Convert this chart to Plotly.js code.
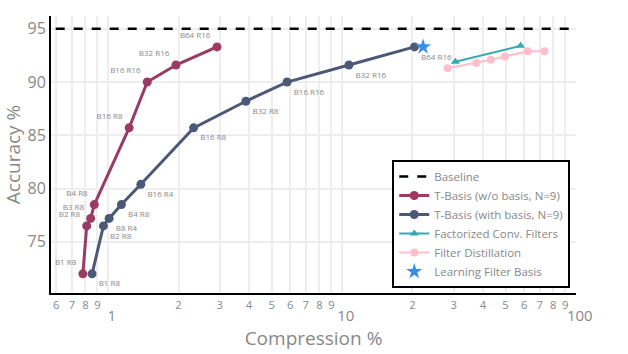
<!DOCTYPE html>
<html>
<head>
<meta charset="utf-8">
<script src="https://cdn.plot.ly/plotly-3.0.1.min.js"></script>
<style>
  html, body { margin: 0; padding: 0; background: #fff; }
  #chart { width: 628px; height: 354px; }
</style>
</head>
<body>
<div id="chart"></div>
<script>
// T-Basis without basis sharing
const noBasisX = [0.78, 0.81, 0.842, 0.873, 1.23, 1.47, 1.95, 2.92];
const noBasisY = [72.0, 76.5, 77.2, 78.5, 85.7, 90.0, 91.6, 93.3];
const noBasisLabels = ['B1 R8', 'B2 R8', 'B3 R8', 'B4 R8', 'B16 R8', 'B16 R16', 'B32 R16', 'B64 R16'];

// T-Basis with basis
const withBasisX = [0.854, 0.955, 1.01, 1.14, 1.38, 2.32, 3.88, 5.82, 10.7, 20.4];
const withBasisY = [72.0, 76.5, 77.2, 78.5, 80.4, 85.7, 88.2, 90.0, 91.6, 93.3];
const withBasisLabels = ['B1 R8', 'B2 R8', 'B8 R4', 'B4 R8', 'B16 R4', 'B16 R8', 'B32 R8', 'B16 R16', 'B32 R16', 'B64 R16'];

// other methods
const factorizedX = [30.5, 58];
const factorizedY = [91.9, 93.4];
const distillX = [28.3, 37.5, 43.2, 49.7, 62.1, 73.3];
const distillY = [91.3, 91.8, 92.1, 92.4, 92.9, 92.9];
const filterBasisX = [22.2];
const filterBasisY = [93.3];

const baselineX = [0.5, 110];
const baselineY = [95, 95];

const labelFont = { size: 8, color: '#888' };

const traces = [
    {
        x: baselineX, y: baselineY, mode: 'lines', name: 'Baseline',
        line: { color: '#000', width: 2.5, dash: 'dash' }
    },
    {
        x: noBasisX, y: noBasisY, text: noBasisLabels,
        mode: 'lines+markers+text', textposition: 'top left', textfont: labelFont,
        name: 'T-Basis (w/o basis, N=9)',
        line: { color: '#9b3a62', width: 3 }, marker: { color: '#9b3a62', size: 9 }
    },
    {
        x: withBasisX, y: withBasisY, text: withBasisLabels,
        mode: 'lines+markers+text', textposition: 'bottom right', textfont: labelFont,
        name: 'T-Basis (with basis, N=9)',
        line: { color: '#4b5877', width: 3 }, marker: { color: '#4b5877', size: 9 }
    },
    {
        x: factorizedX, y: factorizedY, mode: 'lines+markers',
        name: 'Factorized Conv. Filters',
        line: { color: '#35aab0', width: 2 },
        marker: { color: '#35aab0', size: 8, symbol: 'triangle-up' }
    },
    {
        x: distillX, y: distillY, mode: 'lines+markers',
        name: 'Filter Distillation',
        line: { color: '#ffbfca', width: 2 }, marker: { color: '#ffbfca', size: 8 }
    },
    {
        x: filterBasisX, y: filterBasisY, mode: 'markers',
        name: 'Learning Filter Basis',
        marker: { color: '#3a8ee8', size: 12, symbol: 'star' }
    }
];

const layout = {
    width: 628, height: 354,
    margin: { l: 51, r: 52, t: 16, b: 61 },
    paper_bgcolor: '#fff', plot_bgcolor: '#fff',
    font: { color: '#888' },
    xaxis: {
        type: 'log', range: [Math.log10(0.57), 2.0], dtick: 'D1',
        showgrid: true, gridcolor: '#eee', gridwidth: 2,
        showline: true, linecolor: '#000', linewidth: 2,
        zeroline: false, ticks: '',
        tickfont: { size: 15, color: '#888' },
        title: { text: 'Compression %', font: { size: 19, color: '#888' }, standoff: 8 }
    },
    yaxis: {
        range: [70.2, 96.2], dtick: 5,
        showgrid: true, gridcolor: '#eee', gridwidth: 2,
        showline: true, linecolor: '#000', linewidth: 2,
        zeroline: false, ticks: '',
        tickfont: { size: 16, color: '#888' },
        title: { text: 'Accuracy %', font: { size: 19, color: '#888' }, standoff: 8 }
    },
    legend: {
        x: 0.65, y: 0.018, xanchor: 'left', yanchor: 'bottom',
        bgcolor: '#fff', bordercolor: '#000', borderwidth: 2,
        font: { size: 11.5, color: '#888' }, tracegroupgap: 0
    },
    showlegend: true
};

Plotly.newPlot('chart', traces, layout, { displayModeBar: false, staticPlot: true });
</script>
</body>
</html>
